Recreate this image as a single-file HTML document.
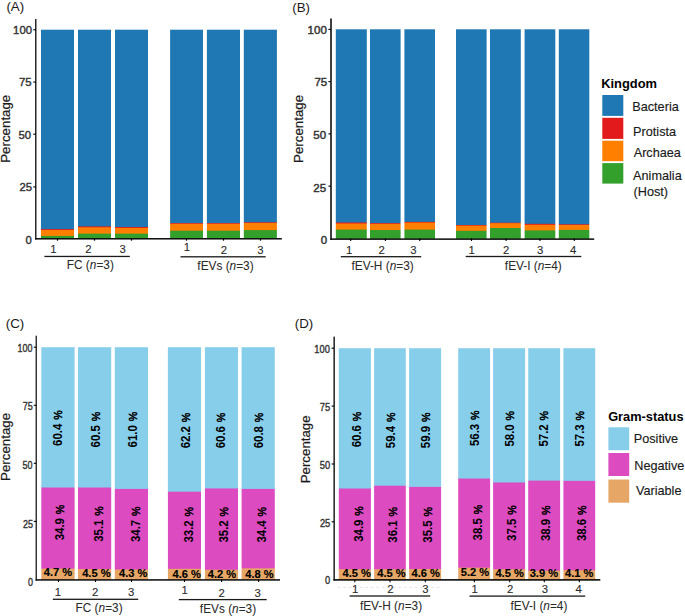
<!DOCTYPE html><html><head><meta charset="utf-8"><title>Figure</title><style>html,body{margin:0;padding:0;background:#fff;width:685px;height:616px;overflow:hidden}svg text{font-family:"Liberation Sans",sans-serif}</style></head><body><svg width="685" height="616" viewBox="0 0 685 616" font-family="'Liberation Sans', sans-serif" style="display:block"><rect width="685" height="616" fill="#fff"/><defs><mask id="c0" maskUnits="userSpaceOnUse" x="39.00" y="27.70" width="37.00" height="213.10"><rect x="41.00" y="29.70" width="33.00" height="209.10" fill="#fff"/></mask><mask id="c1" maskUnits="userSpaceOnUse" x="76.00" y="27.70" width="37.00" height="213.10"><rect x="78.00" y="29.70" width="33.00" height="209.10" fill="#fff"/></mask><mask id="c2" maskUnits="userSpaceOnUse" x="113.00" y="27.70" width="37.00" height="213.10"><rect x="115.00" y="29.70" width="33.00" height="209.10" fill="#fff"/></mask><mask id="c3" maskUnits="userSpaceOnUse" x="168.10" y="27.70" width="36.90" height="213.10"><rect x="170.10" y="29.70" width="32.90" height="209.10" fill="#fff"/></mask><mask id="c4" maskUnits="userSpaceOnUse" x="204.90" y="27.70" width="37.10" height="213.10"><rect x="206.90" y="29.70" width="33.10" height="209.10" fill="#fff"/></mask><mask id="c5" maskUnits="userSpaceOnUse" x="241.80" y="27.70" width="37.10" height="213.10"><rect x="243.80" y="29.70" width="33.10" height="209.10" fill="#fff"/></mask><mask id="c6" maskUnits="userSpaceOnUse" x="333.80" y="27.30" width="35.00" height="213.60"><rect x="335.80" y="29.30" width="31.00" height="209.60" fill="#fff"/></mask><mask id="c7" maskUnits="userSpaceOnUse" x="368.00" y="27.30" width="34.60" height="213.60"><rect x="370.00" y="29.30" width="30.60" height="209.60" fill="#fff"/></mask><mask id="c8" maskUnits="userSpaceOnUse" x="402.40" y="27.30" width="34.60" height="213.60"><rect x="404.40" y="29.30" width="30.60" height="209.60" fill="#fff"/></mask><mask id="c9" maskUnits="userSpaceOnUse" x="454.00" y="27.30" width="34.60" height="213.60"><rect x="456.00" y="29.30" width="30.60" height="209.60" fill="#fff"/></mask><mask id="c10" maskUnits="userSpaceOnUse" x="488.00" y="27.30" width="34.80" height="213.60"><rect x="490.00" y="29.30" width="30.80" height="209.60" fill="#fff"/></mask><mask id="c11" maskUnits="userSpaceOnUse" x="522.60" y="27.30" width="34.70" height="213.60"><rect x="524.60" y="29.30" width="30.70" height="209.60" fill="#fff"/></mask><mask id="c12" maskUnits="userSpaceOnUse" x="556.80" y="27.30" width="34.50" height="213.60"><rect x="558.80" y="29.30" width="30.50" height="209.60" fill="#fff"/></mask><mask id="c13" maskUnits="userSpaceOnUse" x="39.30" y="345.20" width="37.30" height="236.80"><rect x="41.30" y="347.20" width="33.30" height="232.80" fill="#fff"/></mask><mask id="c14" maskUnits="userSpaceOnUse" x="76.00" y="345.20" width="37.20" height="236.80"><rect x="78.00" y="347.20" width="33.20" height="232.80" fill="#fff"/></mask><mask id="c15" maskUnits="userSpaceOnUse" x="112.80" y="345.20" width="37.20" height="236.80"><rect x="114.80" y="347.20" width="33.20" height="232.80" fill="#fff"/></mask><mask id="c16" maskUnits="userSpaceOnUse" x="165.90" y="345.20" width="37.10" height="236.80"><rect x="167.90" y="347.20" width="33.10" height="232.80" fill="#fff"/></mask><mask id="c17" maskUnits="userSpaceOnUse" x="202.90" y="345.20" width="37.10" height="236.80"><rect x="204.90" y="347.20" width="33.10" height="232.80" fill="#fff"/></mask><mask id="c18" maskUnits="userSpaceOnUse" x="239.60" y="345.20" width="37.20" height="236.80"><rect x="241.60" y="347.20" width="33.20" height="232.80" fill="#fff"/></mask><mask id="c19" maskUnits="userSpaceOnUse" x="336.80" y="346.20" width="36.10" height="236.00"><rect x="338.80" y="348.20" width="32.10" height="232.00" fill="#fff"/></mask><mask id="c20" maskUnits="userSpaceOnUse" x="372.10" y="346.20" width="35.70" height="236.00"><rect x="374.10" y="348.20" width="31.70" height="232.00" fill="#fff"/></mask><mask id="c21" maskUnits="userSpaceOnUse" x="407.10" y="346.20" width="36.00" height="236.00"><rect x="409.10" y="348.20" width="32.00" height="232.00" fill="#fff"/></mask><mask id="c22" maskUnits="userSpaceOnUse" x="456.20" y="346.20" width="35.90" height="236.00"><rect x="458.20" y="348.20" width="31.90" height="232.00" fill="#fff"/></mask><mask id="c23" maskUnits="userSpaceOnUse" x="491.10" y="346.20" width="36.00" height="236.00"><rect x="493.10" y="348.20" width="32.00" height="232.00" fill="#fff"/></mask><mask id="c24" maskUnits="userSpaceOnUse" x="526.20" y="346.20" width="35.90" height="236.00"><rect x="528.20" y="348.20" width="31.90" height="232.00" fill="#fff"/></mask><mask id="c25" maskUnits="userSpaceOnUse" x="561.40" y="346.20" width="35.80" height="236.00"><rect x="563.40" y="348.20" width="31.80" height="232.00" fill="#fff"/></mask></defs><g mask="url(#c0)"><rect x="40.00" y="28.70" width="35.00" height="211.10" fill="#33A02C"/><rect x="40.00" y="28.70" width="35.00" height="207.20" fill="#FF7F00"/><rect x="40.00" y="28.70" width="35.00" height="201.20" fill="#E31A1C"/><rect x="40.00" y="28.70" width="35.00" height="200.40" fill="#1F78B4"/></g><g mask="url(#c1)"><rect x="77.00" y="28.70" width="35.00" height="211.10" fill="#33A02C"/><rect x="77.00" y="28.70" width="35.00" height="204.90" fill="#FF7F00"/><rect x="77.00" y="28.70" width="35.00" height="198.60" fill="#E31A1C"/><rect x="77.00" y="28.70" width="35.00" height="197.70" fill="#1F78B4"/></g><g mask="url(#c2)"><rect x="114.00" y="28.70" width="35.00" height="211.10" fill="#33A02C"/><rect x="114.00" y="28.70" width="35.00" height="204.90" fill="#FF7F00"/><rect x="114.00" y="28.70" width="35.00" height="199.20" fill="#E31A1C"/><rect x="114.00" y="28.70" width="35.00" height="198.30" fill="#1F78B4"/></g><g mask="url(#c3)"><rect x="169.10" y="28.70" width="34.90" height="211.10" fill="#33A02C"/><rect x="169.10" y="28.70" width="34.90" height="202.00" fill="#FF7F00"/><rect x="169.10" y="28.70" width="34.90" height="195.00" fill="#E31A1C"/><rect x="169.10" y="28.70" width="34.90" height="194.40" fill="#1F78B4"/></g><g mask="url(#c4)"><rect x="205.90" y="28.70" width="35.10" height="211.10" fill="#33A02C"/><rect x="205.90" y="28.70" width="35.10" height="202.00" fill="#FF7F00"/><rect x="205.90" y="28.70" width="35.10" height="195.00" fill="#E31A1C"/><rect x="205.90" y="28.70" width="35.10" height="194.40" fill="#1F78B4"/></g><g mask="url(#c5)"><rect x="242.80" y="28.70" width="35.10" height="211.10" fill="#33A02C"/><rect x="242.80" y="28.70" width="35.10" height="201.40" fill="#FF7F00"/><rect x="242.80" y="28.70" width="35.10" height="194.20" fill="#E31A1C"/><rect x="242.80" y="28.70" width="35.10" height="193.60" fill="#1F78B4"/></g><rect x="35.10" y="19.00" width="1.35" height="220.55" fill="#111"/><rect x="35.10" y="238.00" width="246.70" height="1.55" fill="#111"/><line x1="33.30" y1="29.80" x2="35.90" y2="29.80" stroke="#000" stroke-width="1.1" /><line x1="33.30" y1="82.10" x2="35.90" y2="82.10" stroke="#000" stroke-width="1.1" /><line x1="33.30" y1="134.20" x2="35.90" y2="134.20" stroke="#000" stroke-width="1.1" /><line x1="33.30" y1="186.90" x2="35.90" y2="186.90" stroke="#000" stroke-width="1.1" /><line x1="57.50" y1="238.30" x2="57.50" y2="240.70" stroke="#000" stroke-width="1.2" /><line x1="94.50" y1="238.30" x2="94.50" y2="240.70" stroke="#000" stroke-width="1.2" /><line x1="131.50" y1="238.30" x2="131.50" y2="240.70" stroke="#000" stroke-width="1.2" /><line x1="186.50" y1="238.30" x2="186.50" y2="240.70" stroke="#000" stroke-width="1.2" /><line x1="223.50" y1="238.30" x2="223.50" y2="240.70" stroke="#000" stroke-width="1.2" /><line x1="260.50" y1="238.30" x2="260.50" y2="240.70" stroke="#000" stroke-width="1.2" /><g mask="url(#c6)"><rect x="334.80" y="28.30" width="33.00" height="211.60" fill="#33A02C"/><rect x="334.80" y="28.30" width="33.00" height="201.30" fill="#FF7F00"/><rect x="334.80" y="28.30" width="33.00" height="195.20" fill="#E31A1C"/><rect x="334.80" y="28.30" width="33.00" height="194.20" fill="#1F78B4"/></g><g mask="url(#c7)"><rect x="369.00" y="28.30" width="32.60" height="211.60" fill="#33A02C"/><rect x="369.00" y="28.30" width="32.60" height="201.70" fill="#FF7F00"/><rect x="369.00" y="28.30" width="32.60" height="195.50" fill="#E31A1C"/><rect x="369.00" y="28.30" width="32.60" height="194.80" fill="#1F78B4"/></g><g mask="url(#c8)"><rect x="403.40" y="28.30" width="32.60" height="211.60" fill="#33A02C"/><rect x="403.40" y="28.30" width="32.60" height="201.30" fill="#FF7F00"/><rect x="403.40" y="28.30" width="32.60" height="194.30" fill="#E31A1C"/><rect x="403.40" y="28.30" width="32.60" height="193.60" fill="#1F78B4"/></g><g mask="url(#c9)"><rect x="455.00" y="28.30" width="32.60" height="211.60" fill="#33A02C"/><rect x="455.00" y="28.30" width="32.60" height="202.50" fill="#FF7F00"/><rect x="455.00" y="28.30" width="32.60" height="197.30" fill="#E31A1C"/><rect x="455.00" y="28.30" width="32.60" height="196.70" fill="#1F78B4"/></g><g mask="url(#c10)"><rect x="489.00" y="28.30" width="32.80" height="211.60" fill="#33A02C"/><rect x="489.00" y="28.30" width="32.80" height="199.70" fill="#FF7F00"/><rect x="489.00" y="28.30" width="32.80" height="194.90" fill="#E31A1C"/><rect x="489.00" y="28.30" width="32.80" height="194.40" fill="#1F78B4"/></g><g mask="url(#c11)"><rect x="523.60" y="28.30" width="32.70" height="211.60" fill="#33A02C"/><rect x="523.60" y="28.30" width="32.70" height="202.10" fill="#FF7F00"/><rect x="523.60" y="28.30" width="32.70" height="196.50" fill="#E31A1C"/><rect x="523.60" y="28.30" width="32.70" height="195.50" fill="#1F78B4"/></g><g mask="url(#c12)"><rect x="557.80" y="28.30" width="32.50" height="211.60" fill="#33A02C"/><rect x="557.80" y="28.30" width="32.50" height="201.60" fill="#FF7F00"/><rect x="557.80" y="28.30" width="32.50" height="196.60" fill="#E31A1C"/><rect x="557.80" y="28.30" width="32.50" height="196.00" fill="#1F78B4"/></g><rect x="330.20" y="18.50" width="1.60" height="221.40" fill="#111"/><rect x="330.20" y="238.35" width="264.00" height="1.55" fill="#111"/><line x1="328.40" y1="29.40" x2="331.00" y2="29.40" stroke="#000" stroke-width="1.1" /><line x1="328.40" y1="81.60" x2="331.00" y2="81.60" stroke="#000" stroke-width="1.1" /><line x1="328.40" y1="133.90" x2="331.00" y2="133.90" stroke="#000" stroke-width="1.1" /><line x1="328.40" y1="186.10" x2="331.00" y2="186.10" stroke="#000" stroke-width="1.1" /><line x1="350.70" y1="238.40" x2="350.70" y2="241.00" stroke="#000" stroke-width="1.1" /><line x1="385.40" y1="238.40" x2="385.40" y2="241.00" stroke="#000" stroke-width="1.1" /><line x1="419.70" y1="238.40" x2="419.70" y2="241.00" stroke="#000" stroke-width="1.1" /><line x1="471.50" y1="238.40" x2="471.50" y2="241.00" stroke="#000" stroke-width="1.1" /><line x1="506.10" y1="238.40" x2="506.10" y2="241.00" stroke="#000" stroke-width="1.1" /><line x1="540.00" y1="238.40" x2="540.00" y2="241.00" stroke="#000" stroke-width="1.1" /><line x1="574.30" y1="238.40" x2="574.30" y2="241.00" stroke="#000" stroke-width="1.1" /><g mask="url(#c13)"><rect x="40.30" y="346.20" width="35.30" height="234.80" fill="#E6A766"/><rect x="40.30" y="346.20" width="35.30" height="222.38" fill="#DC4BC0"/><rect x="40.30" y="346.20" width="35.30" height="141.31" fill="#87CEEB"/></g><g mask="url(#c14)"><rect x="77.00" y="346.20" width="35.20" height="234.80" fill="#E6A766"/><rect x="77.00" y="346.20" width="35.20" height="222.85" fill="#DC4BC0"/><rect x="77.00" y="346.20" width="35.20" height="141.31" fill="#87CEEB"/></g><g mask="url(#c15)"><rect x="113.80" y="346.20" width="35.20" height="234.80" fill="#E6A766"/><rect x="113.80" y="346.20" width="35.20" height="223.31" fill="#DC4BC0"/><rect x="113.80" y="346.20" width="35.20" height="142.70" fill="#87CEEB"/></g><g mask="url(#c16)"><rect x="166.90" y="346.20" width="35.10" height="234.80" fill="#E6A766"/><rect x="166.90" y="346.20" width="35.10" height="222.61" fill="#DC4BC0"/><rect x="166.90" y="346.20" width="35.10" height="145.49" fill="#87CEEB"/></g><g mask="url(#c17)"><rect x="203.90" y="346.20" width="35.10" height="234.80" fill="#E6A766"/><rect x="203.90" y="346.20" width="35.10" height="223.54" fill="#DC4BC0"/><rect x="203.90" y="346.20" width="35.10" height="142.24" fill="#87CEEB"/></g><g mask="url(#c18)"><rect x="240.60" y="346.20" width="35.20" height="234.80" fill="#E6A766"/><rect x="240.60" y="346.20" width="35.20" height="222.15" fill="#DC4BC0"/><rect x="240.60" y="346.20" width="35.20" height="142.70" fill="#87CEEB"/></g><rect x="35.60" y="335.70" width="1.25" height="245.00" fill="#111"/><rect x="35.60" y="579.15" width="244.40" height="1.55" fill="#111"/><line x1="33.80" y1="347.20" x2="36.30" y2="347.20" stroke="#000" stroke-width="1.1" /><line x1="33.80" y1="405.30" x2="36.30" y2="405.30" stroke="#000" stroke-width="1.1" /><line x1="33.80" y1="463.30" x2="36.30" y2="463.30" stroke="#000" stroke-width="1.1" /><line x1="33.80" y1="521.40" x2="36.30" y2="521.40" stroke="#000" stroke-width="1.1" /><line x1="58.50" y1="579.50" x2="58.50" y2="582.00" stroke="#000" stroke-width="1.1" /><line x1="95.50" y1="579.50" x2="95.50" y2="582.00" stroke="#000" stroke-width="1.1" /><line x1="131.50" y1="579.50" x2="131.50" y2="582.00" stroke="#000" stroke-width="1.1" /><line x1="184.50" y1="579.50" x2="184.50" y2="582.00" stroke="#000" stroke-width="1.1" /><line x1="221.60" y1="579.50" x2="221.60" y2="582.00" stroke="#000" stroke-width="1.1" /><line x1="258.60" y1="579.50" x2="258.60" y2="582.00" stroke="#000" stroke-width="1.1" /><g mask="url(#c19)"><rect x="337.80" y="347.20" width="34.10" height="234.00" fill="#E6A766"/><rect x="337.80" y="347.20" width="34.10" height="222.08" fill="#DC4BC0"/><rect x="337.80" y="347.20" width="34.10" height="141.29" fill="#87CEEB"/></g><g mask="url(#c20)"><rect x="373.10" y="347.20" width="33.70" height="234.00" fill="#E6A766"/><rect x="373.10" y="347.20" width="33.70" height="222.08" fill="#DC4BC0"/><rect x="373.10" y="347.20" width="33.70" height="138.51" fill="#87CEEB"/></g><g mask="url(#c21)"><rect x="408.10" y="347.20" width="34.00" height="234.00" fill="#E6A766"/><rect x="408.10" y="347.20" width="34.00" height="221.85" fill="#DC4BC0"/><rect x="408.10" y="347.20" width="34.00" height="139.67" fill="#87CEEB"/></g><g mask="url(#c22)"><rect x="457.20" y="347.20" width="33.90" height="234.00" fill="#E6A766"/><rect x="457.20" y="347.20" width="33.90" height="220.46" fill="#DC4BC0"/><rect x="457.20" y="347.20" width="33.90" height="131.33" fill="#87CEEB"/></g><g mask="url(#c23)"><rect x="492.10" y="347.20" width="34.00" height="234.00" fill="#E6A766"/><rect x="492.10" y="347.20" width="34.00" height="222.08" fill="#DC4BC0"/><rect x="492.10" y="347.20" width="34.00" height="135.27" fill="#87CEEB"/></g><g mask="url(#c24)"><rect x="527.20" y="347.20" width="33.90" height="234.00" fill="#E6A766"/><rect x="527.20" y="347.20" width="33.90" height="223.47" fill="#DC4BC0"/><rect x="527.20" y="347.20" width="33.90" height="133.42" fill="#87CEEB"/></g><g mask="url(#c25)"><rect x="562.40" y="347.20" width="33.80" height="234.00" fill="#E6A766"/><rect x="562.40" y="347.20" width="33.80" height="223.01" fill="#DC4BC0"/><rect x="562.40" y="347.20" width="33.80" height="133.65" fill="#87CEEB"/></g><rect x="333.45" y="336.60" width="1.40" height="244.10" fill="#111"/><rect x="333.45" y="579.05" width="266.85" height="1.65" fill="#111"/><line x1="331.60" y1="348.20" x2="334.10" y2="348.20" stroke="#000" stroke-width="1.1" /><line x1="331.60" y1="406.10" x2="334.10" y2="406.10" stroke="#000" stroke-width="1.1" /><line x1="331.60" y1="464.00" x2="334.10" y2="464.00" stroke="#000" stroke-width="1.1" /><line x1="331.60" y1="521.80" x2="334.10" y2="521.80" stroke="#000" stroke-width="1.1" /><line x1="354.80" y1="579.70" x2="354.80" y2="582.20" stroke="#000" stroke-width="1.1" /><line x1="390.00" y1="579.70" x2="390.00" y2="582.20" stroke="#000" stroke-width="1.1" /><line x1="425.30" y1="579.70" x2="425.30" y2="582.20" stroke="#000" stroke-width="1.1" /><line x1="474.40" y1="579.70" x2="474.40" y2="582.20" stroke="#000" stroke-width="1.1" /><line x1="509.70" y1="579.70" x2="509.70" y2="582.20" stroke="#000" stroke-width="1.1" /><line x1="544.30" y1="579.70" x2="544.30" y2="582.20" stroke="#000" stroke-width="1.1" /><line x1="579.30" y1="579.70" x2="579.30" y2="582.20" stroke="#000" stroke-width="1.1" /><line x1="337.90" y1="587.40" x2="442.00" y2="587.40" stroke="#dcdcdc" stroke-width="0.8" stroke-dasharray="2.5 3"/><rect x="44.40" y="255.80" width="85.40" height="1.30" fill="#1a1a1a"/><rect x="180.50" y="256.15" width="85.20" height="1.30" fill="#1a1a1a"/><rect x="340.80" y="256.05" width="80.40" height="1.30" fill="#1a1a1a"/><rect x="465.70" y="255.85" width="115.60" height="1.30" fill="#1a1a1a"/><rect x="52.80" y="598.65" width="85.40" height="1.30" fill="#1a1a1a"/><rect x="178.80" y="598.95" width="87.90" height="1.30" fill="#1a1a1a"/><rect x="349.60" y="595.35" width="80.60" height="1.30" fill="#1a1a1a"/><rect x="469.50" y="595.45" width="115.70" height="1.30" fill="#1a1a1a"/><rect x="602.30" y="95.00" width="21.00" height="20.90" fill="#1F78B4"/><rect x="602.30" y="117.80" width="21.00" height="21.10" fill="#E31A1C"/><rect x="602.30" y="140.70" width="21.00" height="20.50" fill="#FF7F00"/><rect x="602.30" y="163.10" width="21.00" height="20.50" fill="#33A02C"/><rect x="608.40" y="427.30" width="20.80" height="22.90" fill="#87CEEB"/><rect x="608.40" y="453.00" width="20.80" height="23.00" fill="#DC4BC0"/><rect x="608.40" y="479.50" width="20.80" height="23.20" fill="#E6A766"/><text transform="translate(6.43,11.40)" font-size="13.3" font-weight="normal" fill="#1a1a1a">(A)</text><text transform="translate(292.23,12.00)" font-size="13.3" font-weight="normal" fill="#1a1a1a">(B)</text><text transform="translate(5.73,327.60)" font-size="13.3" font-weight="normal" fill="#1a1a1a">(C)</text><text transform="translate(294.82,327.50)" font-size="13.3" font-weight="normal" fill="#1a1a1a">(D)</text><text transform="translate(13.10,33.77)" font-size="11.3" font-weight="normal" fill="#333" stroke="#333" stroke-width="0.4">100</text><text transform="translate(19.05,86.32)" font-size="11.3" font-weight="normal" fill="#333" stroke="#333" stroke-width="0.4">75</text><text transform="translate(18.45,138.78)" font-size="11.3" font-weight="normal" fill="#333" stroke="#333" stroke-width="0.4">50</text><text transform="translate(19.55,190.93)" font-size="11.3" font-weight="normal" fill="#333" stroke="#333" stroke-width="0.4">25</text><text transform="translate(25.40,243.68)" font-size="11.3" font-weight="normal" fill="#333" stroke="#333" stroke-width="0.4">0</text><text transform="translate(307.60,33.60)" font-size="11.5" font-weight="normal" fill="#333" stroke="#333" stroke-width="0.45">100</text><text transform="translate(314.40,86.40)" font-size="11.5" font-weight="normal" fill="#333" stroke="#333" stroke-width="0.45">75</text><text transform="translate(313.30,138.95)" font-size="11.5" font-weight="normal" fill="#333" stroke="#333" stroke-width="0.45">50</text><text transform="translate(313.30,191.60)" font-size="11.5" font-weight="normal" fill="#333" stroke="#333" stroke-width="0.45">25</text><text transform="translate(320.65,243.65)" font-size="11.5" font-weight="normal" fill="#333" stroke="#333" stroke-width="0.45">0</text><text transform="translate(17.55,352.43) scale(0.76,1)" font-size="11.8" font-weight="normal" fill="#333" stroke="#333" stroke-width="0.4">100</text><text transform="translate(22.75,410.40) scale(0.76,1)" font-size="11.8" font-weight="normal" fill="#333" stroke="#333" stroke-width="0.4">75</text><text transform="translate(22.45,468.62) scale(0.76,1)" font-size="11.8" font-weight="normal" fill="#333" stroke="#333" stroke-width="0.4">50</text><text transform="translate(22.95,527.62) scale(0.76,1)" font-size="11.8" font-weight="normal" fill="#333" stroke="#333" stroke-width="0.4">25</text><text transform="translate(27.95,585.62) scale(0.76,1)" font-size="11.8" font-weight="normal" fill="#333" stroke="#333" stroke-width="0.4">0</text><text transform="translate(314.35,353.48) scale(0.83,1)" font-size="11.2" font-weight="normal" fill="#333" stroke="#333" stroke-width="0.4">100</text><text transform="translate(319.85,410.83) scale(0.83,1)" font-size="11.2" font-weight="normal" fill="#333" stroke="#333" stroke-width="0.4">75</text><text transform="translate(319.85,468.82) scale(0.83,1)" font-size="11.2" font-weight="normal" fill="#333" stroke="#333" stroke-width="0.4">50</text><text transform="translate(319.95,526.62) scale(0.83,1)" font-size="11.2" font-weight="normal" fill="#333" stroke="#333" stroke-width="0.4">25</text><text transform="translate(325.10,584.33) scale(0.83,1)" font-size="11.2" font-weight="normal" fill="#333" stroke="#333" stroke-width="0.4">0</text><text transform="translate(10.10,162.75) rotate(-90)" font-size="13.3" font-weight="normal" fill="#1a1a1a" stroke="#1a1a1a" stroke-width="0.2">Percentage</text><text transform="translate(303.40,162.90) rotate(-90)" font-size="13.3" font-weight="normal" fill="#1a1a1a" stroke="#1a1a1a" stroke-width="0.2">Percentage</text><text transform="translate(10.10,480.90) rotate(-90)" font-size="13.3" font-weight="normal" fill="#1a1a1a" stroke="#1a1a1a" stroke-width="0.2">Percentage</text><text transform="translate(309.60,483.35) rotate(-90)" font-size="13.3" font-weight="normal" fill="#1a1a1a" stroke="#1a1a1a" stroke-width="0.2">Percentage</text><text transform="translate(50.15,253.00)" font-size="11.3" font-weight="normal" fill="#2a2a2a" stroke="#2a2a2a" stroke-width="0.1">1</text><text transform="translate(85.28,253.00)" font-size="11.3" font-weight="normal" fill="#2a2a2a" stroke="#2a2a2a" stroke-width="0.1">2</text><text transform="translate(119.62,253.00)" font-size="11.3" font-weight="normal" fill="#2a2a2a" stroke="#2a2a2a" stroke-width="0.1">3</text><text transform="translate(183.85,250.80)" font-size="11.3" font-weight="normal" fill="#2a2a2a" stroke="#2a2a2a" stroke-width="0.1">1</text><text transform="translate(220.68,253.70)" font-size="11.3" font-weight="normal" fill="#2a2a2a" stroke="#2a2a2a" stroke-width="0.1">2</text><text transform="translate(257.32,253.70)" font-size="11.3" font-weight="normal" fill="#2a2a2a" stroke="#2a2a2a" stroke-width="0.1">3</text><text transform="translate(345.95,253.60)" font-size="11.3" font-weight="normal" fill="#2a2a2a" stroke="#2a2a2a" stroke-width="0.1">1</text><text transform="translate(378.57,253.60)" font-size="11.3" font-weight="normal" fill="#2a2a2a" stroke="#2a2a2a" stroke-width="0.1">2</text><text transform="translate(410.23,253.60)" font-size="11.3" font-weight="normal" fill="#2a2a2a" stroke="#2a2a2a" stroke-width="0.1">3</text><text transform="translate(468.55,253.50)" font-size="11.3" font-weight="normal" fill="#2a2a2a" stroke="#2a2a2a" stroke-width="0.1">1</text><text transform="translate(503.12,253.50)" font-size="11.3" font-weight="normal" fill="#2a2a2a" stroke="#2a2a2a" stroke-width="0.1">2</text><text transform="translate(536.98,253.50)" font-size="11.3" font-weight="normal" fill="#2a2a2a" stroke="#2a2a2a" stroke-width="0.1">3</text><text transform="translate(570.02,253.50)" font-size="11.3" font-weight="normal" fill="#2a2a2a" stroke="#2a2a2a" stroke-width="0.1">4</text><text transform="translate(54.75,596.20)" font-size="11.3" font-weight="normal" fill="#2a2a2a" stroke="#2a2a2a" stroke-width="0.1">1</text><text transform="translate(92.08,596.20)" font-size="11.3" font-weight="normal" fill="#2a2a2a" stroke="#2a2a2a" stroke-width="0.1">2</text><text transform="translate(128.12,596.20)" font-size="11.3" font-weight="normal" fill="#2a2a2a" stroke="#2a2a2a" stroke-width="0.1">3</text><text transform="translate(181.55,593.90)" font-size="11.3" font-weight="normal" fill="#2a2a2a" stroke="#2a2a2a" stroke-width="0.1">1</text><text transform="translate(218.43,596.90)" font-size="11.3" font-weight="normal" fill="#2a2a2a" stroke="#2a2a2a" stroke-width="0.1">2</text><text transform="translate(254.38,596.90)" font-size="11.3" font-weight="normal" fill="#2a2a2a" stroke="#2a2a2a" stroke-width="0.1">3</text><text transform="translate(352.00,593.30)" font-size="11.3" font-weight="normal" fill="#2a2a2a" stroke="#2a2a2a" stroke-width="0.1">1</text><text transform="translate(387.32,593.30)" font-size="11.3" font-weight="normal" fill="#2a2a2a" stroke="#2a2a2a" stroke-width="0.1">2</text><text transform="translate(422.33,593.30)" font-size="11.3" font-weight="normal" fill="#2a2a2a" stroke="#2a2a2a" stroke-width="0.1">3</text><text transform="translate(471.55,593.40)" font-size="11.3" font-weight="normal" fill="#2a2a2a" stroke="#2a2a2a" stroke-width="0.1">1</text><text transform="translate(506.98,593.40)" font-size="11.3" font-weight="normal" fill="#2a2a2a" stroke="#2a2a2a" stroke-width="0.1">2</text><text transform="translate(541.73,593.40)" font-size="11.3" font-weight="normal" fill="#2a2a2a" stroke="#2a2a2a" stroke-width="0.1">3</text><text transform="translate(575.42,593.40)" font-size="11.3" font-weight="normal" fill="#2a2a2a" stroke="#2a2a2a" stroke-width="0.1">4</text><text transform="translate(66.75,269.00)" font-size="11.85" font-weight="normal" fill="#2a2a2a" stroke="#2a2a2a" stroke-width="0.05">FC (<tspan font-style="italic">n</tspan>=3)</text><text transform="translate(197.35,270.20)" font-size="11.85" font-weight="normal" fill="#2a2a2a" stroke="#2a2a2a" stroke-width="0.05">fEVs (<tspan font-style="italic">n</tspan>=3)</text><text transform="translate(351.48,269.80)" font-size="11.85" font-weight="normal" fill="#2a2a2a" stroke="#2a2a2a" stroke-width="0.05">fEV-H (<tspan font-style="italic">n</tspan>=3)</text><text transform="translate(504.85,270.20)" font-size="11.85" font-weight="normal" fill="#2a2a2a" stroke="#2a2a2a" stroke-width="0.05">fEV-I (<tspan font-style="italic">n</tspan>=4)</text><text transform="translate(75.50,611.80)" font-size="11.85" font-weight="normal" fill="#2a2a2a" stroke="#2a2a2a" stroke-width="0.05">FC (<tspan font-style="italic">n</tspan>=3)</text><text transform="translate(199.85,613.10)" font-size="11.85" font-weight="normal" fill="#2a2a2a" stroke="#2a2a2a" stroke-width="0.05">fEVs (<tspan font-style="italic">n</tspan>=3)</text><text transform="translate(359.88,609.80)" font-size="11.85" font-weight="normal" fill="#2a2a2a" stroke="#2a2a2a" stroke-width="0.05">fEV-H (<tspan font-style="italic">n</tspan>=3)</text><text transform="translate(510.45,609.80)" font-size="11.85" font-weight="normal" fill="#2a2a2a" stroke="#2a2a2a" stroke-width="0.05">fEV-I (<tspan font-style="italic">n</tspan>=4)</text><text transform="translate(601.17,88.30)" font-size="12.9" font-weight="bold" fill="#000">Kingdom</text><text transform="translate(632.23,110.90)" font-size="12.7" font-weight="normal" fill="#1a1a1a" stroke="#1a1a1a" stroke-width="0.15">Bacteria</text><text transform="translate(633.05,135.70)" font-size="12.7" font-weight="normal" fill="#1a1a1a" stroke="#1a1a1a" stroke-width="0.15">Protista</text><text transform="translate(633.67,157.00)" font-size="12.7" font-weight="normal" fill="#1a1a1a" stroke="#1a1a1a" stroke-width="0.15">Archaea</text><text transform="translate(633.08,180.10)" font-size="12.7" font-weight="normal" fill="#1a1a1a" stroke="#1a1a1a" stroke-width="0.15">Animalia</text><text transform="translate(633.55,195.60)" font-size="12.7" font-weight="normal" fill="#1a1a1a" stroke="#1a1a1a" stroke-width="0.15">(Host)</text><text transform="translate(608.17,420.80)" font-size="12.8" font-weight="bold" fill="#000">Gram-status</text><text transform="translate(633.70,443.10)" font-size="12.7" font-weight="normal" fill="#1a1a1a" stroke="#1a1a1a" stroke-width="0.15">Positive</text><text transform="translate(634.25,469.70)" font-size="12.7" font-weight="normal" fill="#1a1a1a" stroke="#1a1a1a" stroke-width="0.15">Negative</text><text transform="translate(635.88,495.40)" font-size="12.7" font-weight="normal" fill="#1a1a1a" stroke="#1a1a1a" stroke-width="0.15">Variable</text><text transform="translate(61.90,445.95) rotate(-90) scale(0.92,1)" font-size="12.4" font-weight="bold" fill="#000">60.4 <tspan font-weight="normal" stroke="#000" stroke-width="0.5" font-size="11.6" dx="0.8">%</tspan></text><text transform="translate(100.35,447.40) rotate(-90) scale(0.92,1)" font-size="12.4" font-weight="bold" fill="#000">60.5 <tspan font-weight="normal" stroke="#000" stroke-width="0.5" font-size="11.6" dx="0.8">%</tspan></text><text transform="translate(137.20,447.40) rotate(-90) scale(0.92,1)" font-size="12.4" font-weight="bold" fill="#000">61.0 <tspan font-weight="normal" stroke="#000" stroke-width="0.5" font-size="11.6" dx="0.8">%</tspan></text><text transform="translate(190.35,448.25) rotate(-90) scale(0.92,1)" font-size="12.4" font-weight="bold" fill="#000">62.2 <tspan font-weight="normal" stroke="#000" stroke-width="0.5" font-size="11.6" dx="0.8">%</tspan></text><text transform="translate(225.20,448.25) rotate(-90) scale(0.92,1)" font-size="12.4" font-weight="bold" fill="#000">60.6 <tspan font-weight="normal" stroke="#000" stroke-width="0.5" font-size="11.6" dx="0.8">%</tspan></text><text transform="translate(263.20,448.25) rotate(-90) scale(0.92,1)" font-size="12.4" font-weight="bold" fill="#000">60.8 <tspan font-weight="normal" stroke="#000" stroke-width="0.5" font-size="11.6" dx="0.8">%</tspan></text><text transform="translate(63.85,540.23) rotate(-90) scale(0.92,1)" font-size="12.4" font-weight="bold" fill="#000">34.9 <tspan font-weight="normal" stroke="#000" stroke-width="0.5" font-size="11.6" dx="0.8">%</tspan></text><text transform="translate(102.65,541.77) rotate(-90) scale(0.92,1)" font-size="12.4" font-weight="bold" fill="#000">35.1 <tspan font-weight="normal" stroke="#000" stroke-width="0.5" font-size="11.6" dx="0.8">%</tspan></text><text transform="translate(139.55,541.98) rotate(-90) scale(0.92,1)" font-size="12.4" font-weight="bold" fill="#000">34.7 <tspan font-weight="normal" stroke="#000" stroke-width="0.5" font-size="11.6" dx="0.8">%</tspan></text><text transform="translate(192.50,542.48) rotate(-90) scale(0.92,1)" font-size="12.4" font-weight="bold" fill="#000">33.2 <tspan font-weight="normal" stroke="#000" stroke-width="0.5" font-size="11.6" dx="0.8">%</tspan></text><text transform="translate(227.90,542.48) rotate(-90) scale(0.92,1)" font-size="12.4" font-weight="bold" fill="#000">35.2 <tspan font-weight="normal" stroke="#000" stroke-width="0.5" font-size="11.6" dx="0.8">%</tspan></text><text transform="translate(265.70,542.48) rotate(-90) scale(0.92,1)" font-size="12.4" font-weight="bold" fill="#000">34.4 <tspan font-weight="normal" stroke="#000" stroke-width="0.5" font-size="11.6" dx="0.8">%</tspan></text><text transform="translate(360.70,447.30) rotate(-90) scale(0.92,1)" font-size="12.4" font-weight="bold" fill="#000">60.6 <tspan font-weight="normal" stroke="#000" stroke-width="0.5" font-size="11.6" dx="0.8">%</tspan></text><text transform="translate(395.20,448.15) rotate(-90) scale(0.92,1)" font-size="12.4" font-weight="bold" fill="#000">59.4 <tspan font-weight="normal" stroke="#000" stroke-width="0.5" font-size="11.6" dx="0.8">%</tspan></text><text transform="translate(429.70,448.15) rotate(-90) scale(0.92,1)" font-size="12.4" font-weight="bold" fill="#000">59.9 <tspan font-weight="normal" stroke="#000" stroke-width="0.5" font-size="11.6" dx="0.8">%</tspan></text><text transform="translate(479.25,446.00) rotate(-90) scale(0.92,1)" font-size="12.4" font-weight="bold" fill="#000">56.3 <tspan font-weight="normal" stroke="#000" stroke-width="0.5" font-size="11.6" dx="0.8">%</tspan></text><text transform="translate(513.50,446.55) rotate(-90) scale(0.92,1)" font-size="12.4" font-weight="bold" fill="#000">58.0 <tspan font-weight="normal" stroke="#000" stroke-width="0.5" font-size="11.6" dx="0.8">%</tspan></text><text transform="translate(547.95,446.55) rotate(-90) scale(0.92,1)" font-size="12.4" font-weight="bold" fill="#000">57.2 <tspan font-weight="normal" stroke="#000" stroke-width="0.5" font-size="11.6" dx="0.8">%</tspan></text><text transform="translate(583.60,446.55) rotate(-90) scale(0.92,1)" font-size="12.4" font-weight="bold" fill="#000">57.3 <tspan font-weight="normal" stroke="#000" stroke-width="0.5" font-size="11.6" dx="0.8">%</tspan></text><text transform="translate(363.20,541.78) rotate(-90) scale(0.92,1)" font-size="12.4" font-weight="bold" fill="#000">34.9 <tspan font-weight="normal" stroke="#000" stroke-width="0.5" font-size="11.6" dx="0.8">%</tspan></text><text transform="translate(397.45,542.67) rotate(-90) scale(0.92,1)" font-size="12.4" font-weight="bold" fill="#000">36.1 <tspan font-weight="normal" stroke="#000" stroke-width="0.5" font-size="11.6" dx="0.8">%</tspan></text><text transform="translate(431.85,542.67) rotate(-90) scale(0.92,1)" font-size="12.4" font-weight="bold" fill="#000">35.5 <tspan font-weight="normal" stroke="#000" stroke-width="0.5" font-size="11.6" dx="0.8">%</tspan></text><text transform="translate(481.80,540.38) rotate(-90) scale(0.92,1)" font-size="12.4" font-weight="bold" fill="#000">38.5 <tspan font-weight="normal" stroke="#000" stroke-width="0.5" font-size="11.6" dx="0.8">%</tspan></text><text transform="translate(515.65,540.88) rotate(-90) scale(0.92,1)" font-size="12.4" font-weight="bold" fill="#000">37.5 <tspan font-weight="normal" stroke="#000" stroke-width="0.5" font-size="11.6" dx="0.8">%</tspan></text><text transform="translate(549.75,541.08) rotate(-90) scale(0.92,1)" font-size="12.4" font-weight="bold" fill="#000">38.9 <tspan font-weight="normal" stroke="#000" stroke-width="0.5" font-size="11.6" dx="0.8">%</tspan></text><text transform="translate(585.70,541.08) rotate(-90) scale(0.92,1)" font-size="12.4" font-weight="bold" fill="#000">38.6 <tspan font-weight="normal" stroke="#000" stroke-width="0.5" font-size="11.6" dx="0.8">%</tspan></text><text transform="translate(43.83,575.90)" font-size="11.1" font-weight="bold" fill="#000" stroke="#000" stroke-width="0.15">4.7 %</text><text transform="translate(82.17,577.15)" font-size="11.1" font-weight="bold" fill="#000" stroke="#000" stroke-width="0.15">4.5 %</text><text transform="translate(118.97,577.15)" font-size="11.1" font-weight="bold" fill="#000" stroke="#000" stroke-width="0.15">4.3 %</text><text transform="translate(172.57,578.00)" font-size="11.1" font-weight="bold" fill="#000" stroke="#000" stroke-width="0.15">4.6 %</text><text transform="translate(207.82,578.00)" font-size="11.1" font-weight="bold" fill="#000" stroke="#000" stroke-width="0.15">4.2 %</text><text transform="translate(245.27,577.70)" font-size="11.1" font-weight="bold" fill="#000" stroke="#000" stroke-width="0.15">4.8 %</text><text transform="translate(342.57,577.40)" font-size="11.1" font-weight="bold" fill="#000" stroke="#000" stroke-width="0.15">4.5 %</text><text transform="translate(377.27,577.40)" font-size="11.1" font-weight="bold" fill="#000" stroke="#000" stroke-width="0.15">4.5 %</text><text transform="translate(411.62,577.40)" font-size="11.1" font-weight="bold" fill="#000" stroke="#000" stroke-width="0.15">4.6 %</text><text transform="translate(460.85,575.90)" font-size="11.1" font-weight="bold" fill="#000" stroke="#000" stroke-width="0.15">5.2 %</text><text transform="translate(495.38,577.20)" font-size="11.1" font-weight="bold" fill="#000" stroke="#000" stroke-width="0.15">4.5 %</text><text transform="translate(529.65,577.20)" font-size="11.1" font-weight="bold" fill="#000" stroke="#000" stroke-width="0.15">3.9 %</text><text transform="translate(565.08,577.20)" font-size="11.1" font-weight="bold" fill="#000" stroke="#000" stroke-width="0.15">4.1 %</text></svg></body></html>
